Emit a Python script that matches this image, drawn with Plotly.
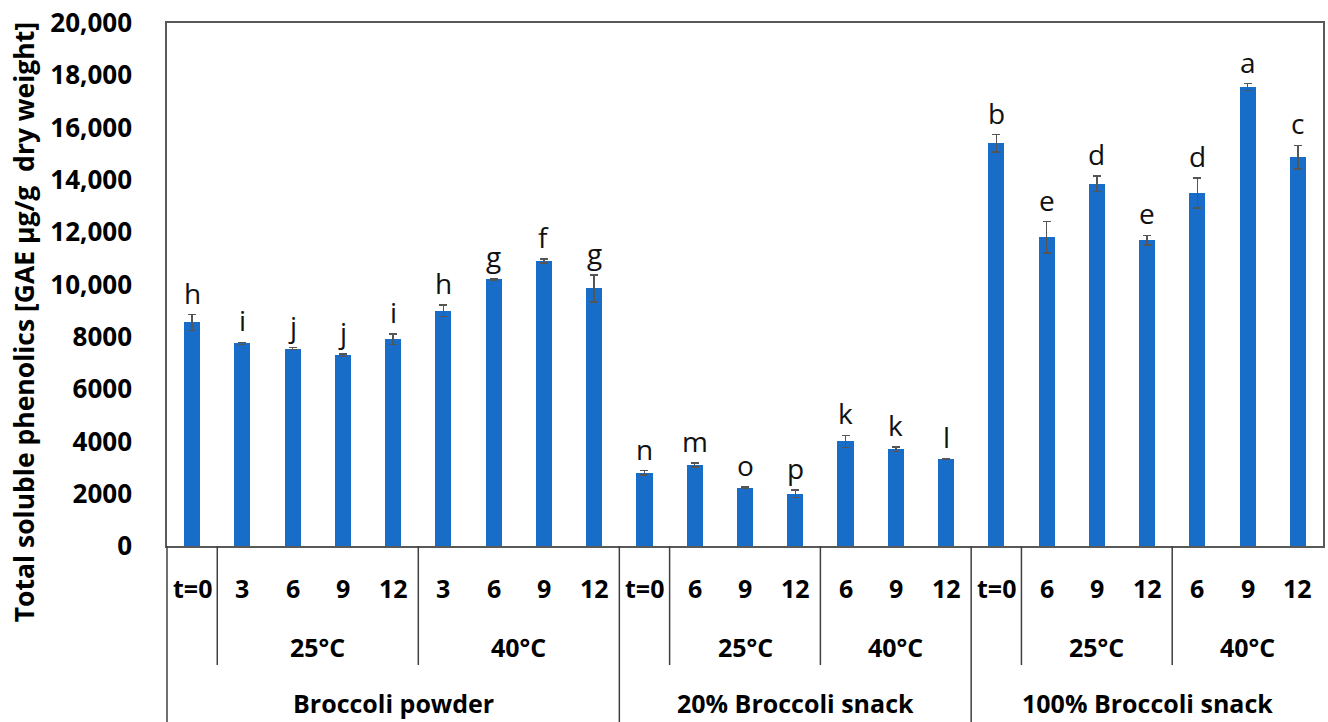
import plotly.graph_objects as go

# Storage series: product, storage temperature and time (weeks)
products = ["Broccoli powder"] * 9 + ["20% Broccoli snack"] * 7 + ["100% Broccoli snack"] * 7
temps = ([""] + ["25°C"] * 4 + ["40°C"] * 4
         + [""] + ["25°C"] * 3 + ["40°C"] * 3
         + [""] + ["25°C"] * 3 + ["40°C"] * 3)
times = ["t=0", "3", "6", "9", "12", "3", "6", "9", "12",
         "t=0", "6", "9", "12", "6", "9", "12",
         "t=0", "6", "9", "12", "6", "9", "12"]

# Total soluble phenolics (GAE µg/g dry weight), SD and significance letters
values = [8550, 7750, 7550, 7300, 7900, 9000, 10200, 10900, 9850,
          2800, 3100, 2230, 2000, 4000, 3700, 3320,
          15400, 11800, 13850, 11700, 13500, 17550, 14870]
errors = [300, 40, 40, 50, 200, 220, 30, 80, 520,
          80, 80, 20, 150, 230, 80, 20,
          330, 600, 300, 180, 570, 130, 450]
letters = ["h", "i", "j", "j", "i", "h", "g", "f", "g",
           "n", "m", "o", "p", "k", "k", "l",
           "b", "e", "d", "e", "d", "a", "c"]

y_ticks = [0, 2000, 4000, 6000, 8000, 10000, 12000, 14000, 16000, 18000, 20000]
y_tick_text = ["0", "2000", "4000", "6000", "8000", "10,000", "12,000",
               "14,000", "16,000", "18,000", "20,000"]

BAR = "#176dc8"
LINE = "#404040"
FONT = "Open Sans"
LABEL_SIZE = 25

W, H = 1328, 722
ML, MR, MT, MB = 167, 3, 23, 176
plot_h = H - MT - MB

n = len(values)
pos = list(range(n))


def py(pix):
    """Pixel row -> paper y."""
    return (H - MB - pix) / plot_h


def px(xpos):
    """Category position -> paper x."""
    return (xpos + 0.5) / n


fig = go.Figure()
fig.add_trace(go.Bar(
    x=pos, y=values, width=0.32,
    marker=dict(color=BAR, line=dict(width=0)),
    error_y=dict(type="data", array=errors, color="#555555", thickness=1.5, width=4),
    hoverinfo="y",
))

annotations = []
# significance letters above the error bars
for i in range(n):
    annotations.append(dict(
        x=pos[i], y=values[i] + errors[i], xref="x", yref="y",
        text=letters[i], showarrow=False, yanchor="bottom", yshift=1,
        font=dict(family=FONT, size=28, color="#111111"),
    ))

# time row
for i in range(n):
    annotations.append(dict(
        x=pos[i], y=py(588), xref="x", yref="paper", text=times[i],
        showarrow=False, yanchor="middle",
        font=dict(family=FONT, size=LABEL_SIZE, color="#000000", weight="bold"),
    ))


def runs(labels):
    out = []
    start = 0
    for i in range(1, n + 1):
        if i == n or labels[i] != labels[start]:
            out.append((start, i - 1, labels[start]))
            start = i
    return out


temp_keys = [p + "|" + t for p, t in zip(products, temps)]
for a, b, key in runs(temp_keys):
    label = key.split("|")[1]
    if label:
        annotations.append(dict(
            x=(pos[a] + pos[b]) / 2, y=py(647), xref="x", yref="paper", text=label,
            showarrow=False, yanchor="middle",
            font=dict(family=FONT, size=LABEL_SIZE, color="#000000", weight="bold"),
        ))

for a, b, label in runs(products):
    annotations.append(dict(
        x=(pos[a] + pos[b]) / 2, y=py(703), xref="x", yref="paper", text=label,
        showarrow=False, yanchor="middle",
        font=dict(family=FONT, size=LABEL_SIZE, color="#000000", weight="bold"),
    ))

# y-axis title
annotations.append(dict(
    x=(24 - ML) / (W - ML - MR), y=py(322), xref="paper", yref="paper",
    text="Total soluble phenolics [GAE µg/g\u00a0 dry weight]", textangle=-90,
    showarrow=False, xanchor="center", yanchor="middle",
    font=dict(family=FONT, size=26.5, color="#000000", weight="bold"),
))

# table divider lines below the axis
shapes = [dict(type="line", xref="paper", yref="paper", x0=0, x1=0,
               y0=0, y1=py(H), line=dict(color=LINE, width=1.5))]
for i in range(n - 1):
    if products[i] != products[i + 1]:
        y_end = py(H)
    elif temps[i] != temps[i + 1]:
        y_end = py(665)
    else:
        continue
    xp = px(pos[i] + 0.5)
    shapes.append(dict(type="line", xref="paper", yref="paper", x0=xp, x1=xp,
                       y0=0, y1=y_end, line=dict(color=LINE, width=1.5)))

fig.update_layout(
    width=W, height=H,
    margin=dict(l=ML, r=MR, t=MT, b=MB),
    paper_bgcolor="white", plot_bgcolor="white",
    showlegend=False,
    bargap=0,
    xaxis=dict(range=[-0.5, n - 0.5], showticklabels=False, ticks="",
               showgrid=False, zeroline=False,
               showline=True, mirror=True, linecolor="#595959", linewidth=1.5),
    yaxis=dict(range=[0, 20000], tickvals=y_ticks, ticktext=y_tick_text,
               ticks="", ticklabelstandoff=28, showgrid=False, zeroline=False,
               showline=True, mirror=True, linecolor="#595959", linewidth=1.5,
               tickfont=dict(family=FONT, size=26, color="#000000", weight="bold")),
    annotations=annotations,
    shapes=shapes,
)

fig.write_html("out.html")
